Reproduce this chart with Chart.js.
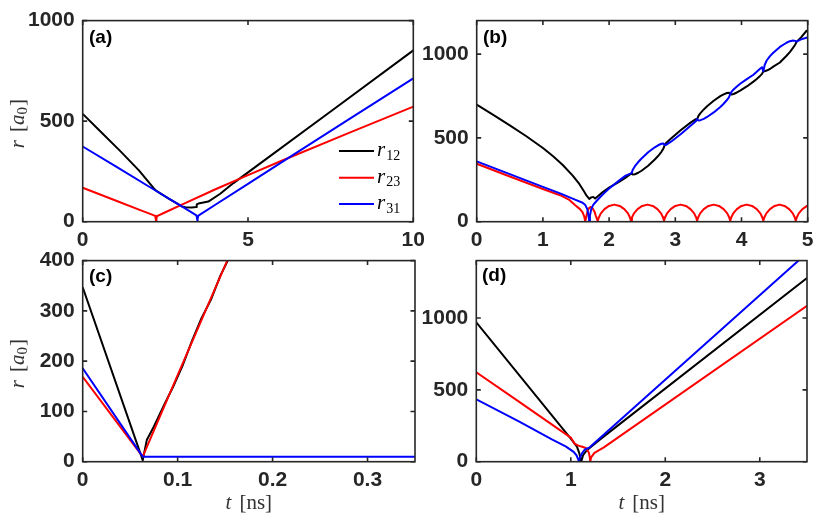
<!DOCTYPE html>
<html>
<head>
<meta charset="utf-8">
<script src="https://cdn.jsdelivr.net/npm/chart.js@4.4.1/dist/chart.umd.min.js"></script>
<style>
html,body{margin:0;padding:0;background:#fff;}
#wrap{position:relative;width:830px;height:525px;overflow:hidden;background:#fff;}
canvas{position:absolute;}
</style>
</head>
<body>
<div id="wrap">
<canvas id="ca" width="440" height="272" style="left:0px;top:0px"></canvas>
<canvas id="cb" width="412" height="272" style="left:418px;top:0px"></canvas>
<canvas id="cc" width="440" height="285" style="left:0px;top:240px"></canvas>
<canvas id="cd" width="412" height="285" style="left:418px;top:240px"></canvas>
</div>
<script>
// ---------------- DATA (t in ns, r in a0) ----------------
// Panel (a)
const A_X_TICKS = [0, 5, 10];
const A_Y_TICKS = [0, 500, 1000];
const A_R12 = [[0,536],[0.5,455],[1.13,352],[1.7,255],[2.14,168],[2.24,152],[2.6,115],[3.0,76],[3.1,72],[3.3,71],[3.43,73],[3.45,86],[3.5,90],[3.8,100],[4.16,139],[4.56,192],[5.37,290],[7.5,548],[10,852]];
const A_R23 = [[0,169],[1.13,97],[1.8,54],[2.1,35],[2.19,29],[2.21,14],[2.22,2],[2.23,14],[2.25,28],[2.5,47],[3,85],[4,160],[5,232],[6,302],[8,438],[10,572]];
const A_R31 = [[0,374],[1,275],[2,175],[3,76],[3.44,31],[3.46,15],[3.47,2],[3.48,15],[3.5,30],[4,83],[5,188],[6,294],[8,504],[10,713]];

// Panel (b)
const B_X_TICKS = [0, 1, 2, 3, 4, 5];
const B_Y_TICKS = [0, 500, 1000];
const B_R12 = [[0,698],[0.25,638],[0.5,575],[0.75,510],[1.0,440],[1.15,392],[1.3,338],[1.45,275],[1.55,225],[1.62,182],[1.66,155],[1.70,136],[1.73,145],[1.76,148],[1.79,138],[1.83,152],[1.9,175],[2.0,203],[2.15,238],[2.25,263],[2.34,290],[2.36,281],[2.39,283],[2.44,292],[2.49,304],[2.59,334],[2.69,371],[2.74,392],[2.79,417],[2.82,436],[2.84,458],[2.86,470],[2.94,498],[3.085,547],[3.23,591],[3.31,612],[3.33,612],[3.35,632],[3.38,648],[3.43,670],[3.48,689],[3.58,722],[3.68,749],[3.73,760],[3.78,768],[3.81,770],[3.83,762],[3.85,759],[3.88,762],[3.93,771],[3.98,782],[4.08,807],[4.18,836],[4.23,852],[4.28,870],[4.31,882],[4.33,897],[4.35,898],[4.38,902],[4.43,911],[4.48,925],[4.58,950],[4.68,990],[4.73,1012],[4.78,1039],[4.81,1056],[4.83,1072],[4.9,1100],[4.98,1138],[5.0,1142]];
const B_R23 = [[0,346],[0.5,270],[1.0,195],[1.26,158],[1.4,130],[1.485,100],[1.56,75],[1.6,55],[1.625,30],[1.64,0],[1.655,30],[1.67,55],[1.69,78],[1.72,88],[1.75,80],[1.78,60],[1.8,35],[1.82,12],[1.83,0],
  [1.832,7],[1.845,25],[1.875,50],[1.93,75],[2.0,94],[2.08,102],[2.16,94],[2.23,75],[2.285,50],[2.315,25],[2.328,7],[2.33,0],
  [2.332,7],[2.345,25],[2.375,50],[2.43,75],[2.5,94],[2.58,102],[2.66,94],[2.73,75],[2.785,50],[2.815,25],[2.828,7],[2.83,0],
  [2.832,7],[2.845,25],[2.875,50],[2.93,75],[3.0,94],[3.08,102],[3.16,94],[3.23,75],[3.285,50],[3.315,25],[3.328,7],[3.33,0],
  [3.332,7],[3.345,25],[3.375,50],[3.43,75],[3.5,94],[3.58,102],[3.66,94],[3.73,75],[3.785,50],[3.815,25],[3.828,7],[3.83,0],
  [3.832,7],[3.845,25],[3.875,50],[3.93,75],[4.0,94],[4.08,102],[4.16,94],[4.23,75],[4.285,50],[4.315,25],[4.328,7],[4.33,0],
  [4.332,7],[4.345,25],[4.375,50],[4.43,75],[4.5,94],[4.575,102],[4.65,94],[4.72,75],[4.775,50],[4.805,25],[4.818,7],[4.82,0],
  [4.822,7],[4.835,25],[4.865,50],[4.92,75],[4.99,94],[5.0,96]];
const B_R31 = [[0,360],[0.5,284],[1.0,208],[1.26,169],[1.485,132],[1.6,113],[1.64,100],[1.67,75],[1.69,35],[1.70,0],[1.71,35],[1.73,75],[1.76,100],[1.80,119],[1.87,149],[1.93,172],[2.0,198],[2.15,245],[2.25,275],[2.34,290],[2.36,312],[2.39,331],[2.44,356],[2.49,377],[2.59,414],[2.69,444],[2.74,456],[2.79,465],[2.82,467],[2.84,458],[2.86,458],[2.94,479],[3.085,523],[3.23,572],[3.31,600],[3.33,612],[3.35,604],[3.38,606],[3.43,614],[3.48,625],[3.58,652],[3.68,685],[3.73,704],[3.78,726],[3.81,742],[3.83,762],[3.85,776],[3.88,789],[3.93,807],[3.98,823],[4.08,851],[4.18,877],[4.23,895],[4.28,912],[4.31,922],[4.33,897],[4.35,935],[4.38,962],[4.43,988],[4.48,1008],[4.58,1043],[4.68,1068],[4.73,1077],[4.78,1081],[4.81,1079],[4.83,1075],[4.9,1088],[4.98,1098],[5.0,1100]];

// Panel (c)
const C_X_TICKS = [0, 0.1, 0.2, 0.3];
const C_Y_TICKS = [0, 100, 200, 300, 400];
const C_R12 = [[0,347],[0.0632,3],[0.0675,43],[0.075,70],[0.085,110],[0.095,148],[0.105,190],[0.115,240],[0.125,285],[0.135,322],[0.145,370],[0.1528,400]];
const C_R23 = [[0,169],[0.0632,10],[0.1,172],[0.1522,400]];
const C_R31 = [[0,186],[0.0632,10],[0.1,10],[0.2,10],[0.3,10],[0.35,10]];

// Panel (d)
const D_X_TICKS = [0, 1, 2, 3];
const D_Y_TICKS = [0, 500, 1000];
const D_R12 = [[0,970],[1.0,160],[1.065,105],[1.09,60],[1.11,0],[1.13,45],[1.17,80],[1.3,150],[3.5,1279]];
const D_R23 = [[0,623],[0.466,411],[1.0,168],[1.04,126],[1.08,112],[1.12,104],[1.16,95],[1.19,65],[1.2,35],[1.206,0],[1.215,30],[1.25,62],[1.35,100],[3.5,1085]];
const D_R31 = [[0,434],[0.45,280],[0.8,155],[0.95,105],[1.03,68],[1.06,45],[1.08,15],[1.086,0],[1.095,25],[1.12,60],[1.15,85],[1.2,100],[3.5,1453]];

const SERIES_NAMES = ['12', '23', '31'];
const PANEL_LABELS = ['(a)', '(b)', '(c)', '(d)'];

// ---------------- STYLE ----------------
const AXIS_COLOR = '#262626';
const LABEL_COLOR = '#333333';
const COLORS = ['#000000', '#ff0000', '#0000ff'];
const SANS = '"Liberation Sans", Arial, Helvetica, sans-serif';
const SERIF = '"Liberation Serif", "DejaVu Serif", serif';
const XH = 40;      // x scale height
const TL = 4.5;     // inner tick length

Chart.defaults.font.family = SANS;

function drawRich(ctx, parts, x, y, align) {
  let w = 0;
  parts.forEach(p => { ctx.font = p.font; p.w = ctx.measureText(p.t).width; w += p.w + (p.gap || 0); });
  let cx = align === 'center' ? x - w / 2 : x;
  parts.forEach(p => {
    ctx.font = p.font;
    cx += (p.gap || 0);
    ctx.fillText(p.t, cx, y + (p.dy || 0));
    cx += p.w;
  });
}

function yTitleParts() {
  return [
    {t: 'r', font: 'italic 21px ' + SERIF},
    {t: '[', font: '21px ' + SERIF, gap: 8},
    {t: 'a', font: 'italic 21px ' + SERIF},
    {t: '0', font: '15px ' + SERIF, dy: 3.5},
    {t: ']', font: '21px ' + SERIF, gap: 1}
  ];
}
function xTitleParts() {
  return [
    {t: 't', font: 'italic 21px ' + SERIF},
    {t: '[ns]', font: '21px ' + SERIF, gap: 8}
  ];
}

function framePlugin(p) {
  return {
    id: 'frame' + p.idx,
    afterDatasetsDraw(chart) {
      const ctx = chart.ctx, a = chart.chartArea, xs = chart.scales.x, ys = chart.scales.y;
      ctx.save();
      ctx.strokeStyle = AXIS_COLOR;
      ctx.lineWidth = 1.6;
      ctx.beginPath();
      p.xTicks.forEach(v => {
        const px = xs.getPixelForValue(v);
        ctx.moveTo(px, a.bottom); ctx.lineTo(px, a.bottom - TL);
        ctx.moveTo(px, a.top); ctx.lineTo(px, a.top + TL);
      });
      p.yTicks.forEach(v => {
        const py = ys.getPixelForValue(v);
        ctx.moveTo(a.left, py); ctx.lineTo(a.left + TL, py);
        ctx.moveTo(a.right, py); ctx.lineTo(a.right - TL, py);
      });
      ctx.stroke();
      ctx.strokeRect(a.left, a.top, a.right - a.left, a.bottom - a.top);

      ctx.fillStyle = '#000';
      ctx.font = 'bold 19px ' + SANS;
      ctx.textAlign = 'left';
      ctx.textBaseline = 'middle';
      ctx.fillText(PANEL_LABELS[p.idx], p.labelX - p.cx, p.labelY - p.cy);

      ctx.textBaseline = 'alphabetic';
      if (p.yTitle) {
        ctx.save();
        ctx.fillStyle = LABEL_COLOR;
        ctx.translate(23.5 - p.cx, (a.top + a.bottom) / 2 + 2.5);
        ctx.rotate(-Math.PI / 2);
        drawRich(ctx, yTitleParts(), 0, 0, 'center');
        ctx.restore();
      }
      if (p.xTitle) {
        ctx.fillStyle = LABEL_COLOR;
        drawRich(ctx, xTitleParts(), (a.left + a.right) / 2, 509 - p.cy, 'center');
      }
      if (p.legend) {
        const rows = [151, 177.7, 204];
        rows.forEach((ry, i) => {
          ctx.strokeStyle = COLORS[i];
          ctx.lineWidth = 2;
          ctx.beginPath();
          ctx.moveTo(339 - p.cx, ry - p.cy);
          ctx.lineTo(374 - p.cx, ry - p.cy);
          ctx.stroke();
          ctx.fillStyle = '#000';
          drawRich(ctx, [
            {t: 'r', font: 'italic 21px ' + SERIF},
            {t: SERIES_NAMES[i], font: '14px ' + SERIF, dy: 3.5, gap: 1}
          ], 377 - p.cx, ry + 5 - p.cy, 'left');
        });
      }
      ctx.restore();
    }
  };
}

function makePanel(p) {
  const canvas = document.getElementById(p.id);
  const datasets = p.series.map((s, i) => ({
    data: s.map(([x, y]) => ({x, y})),
    borderColor: COLORS[i],
    backgroundColor: COLORS[i],
    borderWidth: 2,
    pointRadius: 0,
    tension: 0,
    fill: false,
    borderJoinStyle: 'round',
    order: 3 - i
  }));
  const tickFont = {family: SANS, size: 21, weight: 'bold'};
  return new Chart(canvas, {
    type: 'line',
    data: {datasets},
    options: {
      responsive: false,
      animation: false,
      events: [],
      layout: {padding: {
        left: 0,
        top: p.top - p.cy,
        right: p.cx + p.W - p.right,
        bottom: p.cy + p.H - p.bottom - XH
      }},
      plugins: {legend: {display: false}, tooltip: {enabled: false}},
      scales: {
        x: {
          type: 'linear', min: p.xMin, max: p.xMax,
          afterBuildTicks: s => { s.ticks = p.xTicks.map(v => ({value: v})); },
          afterFit: s => { s.height = XH; },
          grid: {display: false, drawTicks: false}, border: {display: false},
          ticks: {autoSkip: false, maxRotation: 0, padding: 6, font: tickFont, color: AXIS_COLOR, callback: v => String(v)}
        },
        y: {
          type: 'linear', min: p.yMin, max: p.yMax,
          afterBuildTicks: s => { s.ticks = p.yTicks.map(v => ({value: v})); },
          afterFit: s => { s.width = p.left - p.cx; },
          grid: {display: false, drawTicks: false}, border: {display: false},
          ticks: {autoSkip: false, padding: 8, font: tickFont, color: AXIS_COLOR, callback: v => String(v)}
        }
      }
    },
    plugins: [framePlugin(p)]
  });
}

makePanel({idx: 0, id: 'ca', cx: 0, cy: 0, W: 440, H: 272, left: 82.7, top: 18.5, right: 413.3, bottom: 221.7,
  xMin: 0, xMax: 10, yMin: 0, yMax: 1000, xTicks: A_X_TICKS, yTicks: A_Y_TICKS,
  series: [A_R12, A_R23, A_R31], labelX: 89, labelY: 38, yTitle: true, xTitle: false, legend: true});
makePanel({idx: 1, id: 'cb', cx: 418, cy: 0, W: 412, H: 272, left: 476.7, top: 18.5, right: 807.7, bottom: 221.7,
  xMin: 0, xMax: 5, yMin: 0, yMax: 1200, xTicks: B_X_TICKS, yTicks: B_Y_TICKS,
  series: [B_R12, B_R23, B_R31], labelX: 483, labelY: 38, yTitle: false, xTitle: false, legend: false});
makePanel({idx: 2, id: 'cc', cx: 0, cy: 240, W: 440, H: 285, left: 82.7, top: 259.5, right: 415, bottom: 461.7,
  xMin: 0, xMax: 0.35, yMin: 0, yMax: 400, xTicks: C_X_TICKS, yTicks: C_Y_TICKS,
  series: [C_R12, C_R23, C_R31], labelX: 89, labelY: 276.5, yTitle: true, xTitle: true, legend: false});
makePanel({idx: 3, id: 'cd', cx: 418, cy: 240, W: 412, H: 285, left: 476.3, top: 259.5, right: 807, bottom: 461.7,
  xMin: 0, xMax: 3.5, yMin: 0, yMax: 1400, xTicks: D_X_TICKS, yTicks: D_Y_TICKS,
  series: [D_R12, D_R23, D_R31], labelX: 482, labelY: 275.5, yTitle: false, xTitle: true, legend: false});
</script>
</body>
</html>
